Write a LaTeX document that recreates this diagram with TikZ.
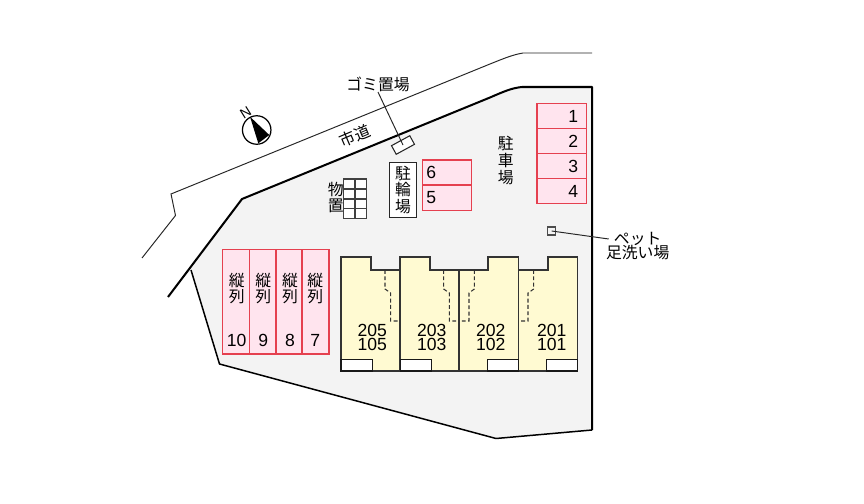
\documentclass[tikz,border=0pt]{standalone}
\usepackage{fontspec}
\setmainfont{Liberation Sans}
\newfontfamily\cjk{Noto Sans CJK JP}
\usepackage[svgnames]{xcolor}
\usepackage{tikz}
\definecolor{lotgray}{HTML}{F3F3F3}
\definecolor{parkpink}{HTML}{FFE4EE}
\definecolor{parkred}{HTML}{E5404F}
\definecolor{unityellow}{HTML}{FFFAD2}
\tikzset{
  lotline/.style={black,line width=1.15pt,line join=round},
  lotedge/.style={black,line width=0.85pt,line join=round},
  roadline/.style={black!85,line width=0.55pt},
  parkbox/.style={draw=parkred,fill=parkpink,line width=0.85pt,inner sep=0pt},
  unitline/.style={black!80,line width=0.7pt},
  doorline/.style={black!80,dash pattern=on 2.2pt off 1.4pt,line width=0.6pt},
  whitebox/.style={draw=black!90,fill=white,line width=0.7pt},
  thinbox/.style={draw=black!85,fill=white,line width=0.6pt,inner sep=0pt},
  jplabel/.style={font=\cjk\fontsize{9}{9.5}\selectfont,inner sep=0pt,align=center},
  numlabel/.style={font=\fontsize{10}{8}\selectfont,inner sep=0pt,align=center},
}
\begin{document}
\begin{tikzpicture}[x=0.02cm,y=-0.02cm]
\useasboundingbox (0,0) rectangle (864,503);
\fill[white] (0,0) rectangle (864,503);
% lot
\fill[lotgray] (168,297) -- (242,199) -- (490,97.5) .. controls (505,91) and (512,88) .. (522,87) -- (592,87) -- (592,430) -- (496,438.5) -- (219.5,364) -- (191,270) -- cycle;
\draw[lotline] (168,297) -- (242,199) -- (490,97.5) .. controls (505,91) and (512,88) .. (522,87) -- (592,87) -- (592,430);
\draw[lotedge] (592,430) -- (496,438.5) -- (219.5,364) -- (191,270);
% road
\draw[roadline] (142,258) -- (175.5,215.5) -- (171,194) -- (490,64) .. controls (505,58) and (512,55) .. (523,53) -- (592,53);
\node[jplabel,rotate=23] (roadlabel) at (355,136) {市道};
% compass
\node[draw=black,fill=white,circle,line width=0.7pt,minimum size=0.57cm,inner sep=0pt] (compass) at (256.7,130) {};
\fill[black] (250,116.7) -- (269.3,135) -- (258.3,143.3) -- cycle;
\node[font=\fontsize{8}{8}\selectfont,inner sep=0pt,rotate=32] (north) at (245.7,113) {N};
% parking 1-4
\foreach \y/\n in {116/1,141/2,166/3,191/4}{
  \node[parkbox,minimum width=0.986cm,minimum height=0.506cm] (park\n) at (561.7,\y) {};
  \node[numlabel] (num\n) at (573.3,\y) {\n};
}
% parking 5-6
\foreach \y/\n in {172.5/6,197.7/5}{
  \node[parkbox,minimum width=0.98cm,minimum height=0.506cm] (park\n) at (447.2,\y) {};
  \node[numlabel] (num\n) at (431.3,\y) {\n};
}
% parking 7-10
\foreach \x/\t/\n in {236/236.7/10,262.7/263.3/9,289.2/290/8,315.5/315.3/7}{
  \node[parkbox,minimum width=0.532cm,minimum height=2.086cm] (park\n) at (\x,301.8) {};
  \node[jplabel] (tate\n) at (\t,288.5) {縦\\列};
  \node[numlabel] (num\n) at (\t,340) {\n};
}
% units
\fill[unityellow] (341,257) -| (371,270) -| (400,257) -| (430,270) -| (488,257) -| (518,270) -| (548,257) -| (577.3,371) -| cycle;
\draw[unitline] (341,257) -| (371,270) -| (400,257) -| (430,270) -| (488,257) -| (518.3,270) -| (548,257) -| (577.3,371) -| cycle;
\draw[unitline] (400,270) -- (400,371);
\draw[unitline] (459,270) -- (459,371);
\draw[unitline] (518.3,270) -- (518.3,371);
\draw[whitebox] (341,359.5) rectangle (372.3,371);
\draw[whitebox] (400.3,359.5) rectangle (431.3,371);
\draw[whitebox] (487.3,359.5) rectangle (518.3,371);
\draw[whitebox] (546.7,359.5) rectangle (577.3,371);
\draw[doorline] (385,270) -- (385,289) -- (390.7,293) -- (390.7,321) -- (400,321);
\draw[doorline] (443.7,270) -- (443.7,289) -- (449.3,293) -- (449.3,321) -- (459,321);
\draw[doorline] (474.3,270) -- (474.3,289) -- (469,293) -- (469,321) -- (459,321);
\draw[doorline] (533.7,270) -- (533.7,289) -- (528,293) -- (528,321) -- (518.3,321);
\foreach \x/\a/\b in {372.3/205/105,431.7/203/103,490.7/202/102,551.7/201/101}
  \node[numlabel] (unit\a) at (\x,337.5) {\a\\\b};
% storage
\draw[black!75,line width=0.6pt,fill=white] (343.3,179) rectangle (366.7,218.3);
\foreach \y in {189,199,208.7}
  \draw[black!75,line width=0.6pt] (343.3,\y) -- (366.7,\y);
\draw[black!75,line width=0.6pt] (355,179) -- (355,218.3);
\node[jplabel,font=\cjk\fontsize{9}{8.6}\selectfont] (storagelabel) at (335.7,197.5) {物\\置};
% bicycles
\node[thinbox,minimum width=0.548cm,minimum height=1.1cm,jplabel] (bikebox) at (403,189.8) {駐\\輪\\場};
% parking label
\node[jplabel] (parklabel) at (505.7,160.3) {駐\\車\\場};
% garbage
\node[thinbox,rotate=28.6,minimum width=0.416cm,minimum height=0.196cm] (gomibox) at (403,145) {};
\node[jplabel] (gomilabel) at (378,84.3) {ゴミ置場};
\draw[black!85,line width=0.55pt] (gomilabel.south) -- (gomibox.center);
% pet wash
\node[draw=black!70,fill=lotgray,line width=0.6pt,inner sep=0pt,minimum size=0.16cm] (petbox) at (551.7,231) {};
\node[jplabel,inner xsep=2.8pt] (petlabel) at (637.7,239) {ペット};
\node[jplabel] (washlabel) at (637.7,253) {足洗い場};
\draw[black!85,line width=0.55pt] (petbox.center) -- (petlabel.west);
\end{tikzpicture}
\end{document}
